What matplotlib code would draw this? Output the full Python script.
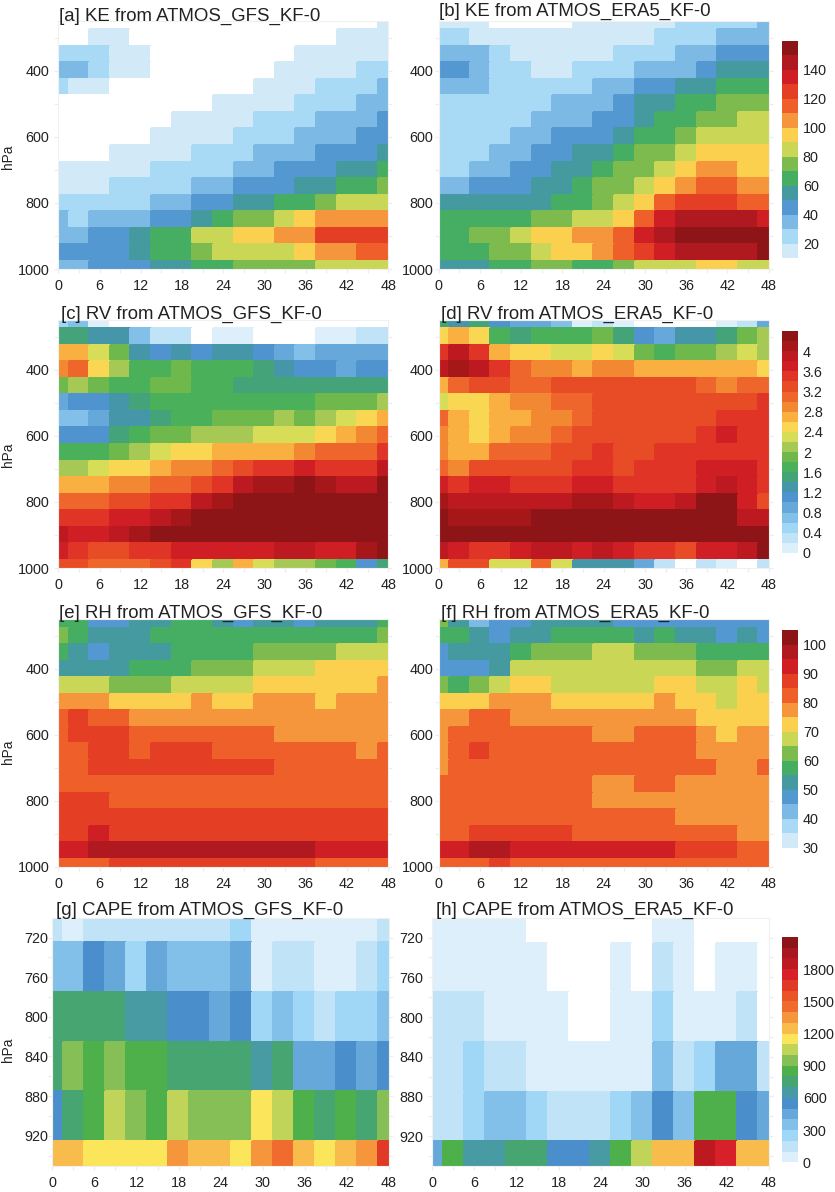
import numpy as np
from matplotlib import pyplot as plt
from matplotlib.colors import BoundaryNorm, ListedColormap
from matplotlib.colorbar import ColorbarBase
from matplotlib.ticker import FixedLocator

plt.rcParams['font.family'] = ['Liberation Sans', 'DejaVu Sans']

hours = list(range(0, 49, 3))
plev = list(range(250, 1001, 50))
plev_cape = [700, 750, 800, 850, 900, 950]

ke_gfs = [
    [5, 5, 5, 5, 5, 5, 5, 5, 5, 5, 5, 5, 5, 5, 5, 5, 15],
    [5, 5, 15, 15, 5, 5, 5, 5, 5, 5, 5, 5, 5, 5, 15, 15, 15],
    [25, 25, 25, 15, 15, 5, 5, 5, 5, 5, 5, 5, 15, 15, 15, 15, 15],
    [35, 35, 25, 15, 15, 5, 5, 5, 5, 5, 5, 15, 15, 15, 15, 25, 25],
    [25, 15, 15, 5, 5, 5, 5, 5, 5, 5, 15, 15, 15, 25, 25, 25, 35],
    [5, 5, 5, 5, 5, 5, 5, 5, 15, 15, 15, 15, 25, 25, 25, 35, 35],
    [5, 5, 5, 5, 5, 5, 15, 15, 15, 15, 25, 25, 25, 35, 35, 35, 45],
    [5, 5, 5, 5, 5, 15, 15, 15, 15, 25, 25, 25, 35, 35, 35, 45, 45],
    [5, 5, 5, 15, 15, 15, 15, 25, 25, 25, 35, 35, 35, 45, 45, 45, 55],
    [15, 15, 15, 15, 15, 25, 25, 25, 25, 35, 35, 45, 45, 45, 55, 55, 65],
    [15, 15, 15, 25, 25, 25, 25, 35, 35, 45, 45, 45, 55, 55, 65, 65, 75],
    [25, 25, 25, 25, 25, 35, 35, 45, 45, 55, 55, 65, 65, 75, 85, 85, 85],
    [35, 25, 35, 35, 35, 45, 45, 55, 65, 75, 75, 85, 95, 105, 105, 105, 105],
    [35, 35, 45, 45, 55, 65, 65, 85, 85, 95, 95, 105, 105, 125, 125, 125, 125],
    [45, 45, 45, 45, 55, 65, 65, 75, 85, 85, 85, 85, 95, 105, 105, 115, 115],
    [35, 35, 45, 45, 45, 55, 55, 65, 65, 75, 75, 75, 75, 85, 85, 85, 85],
]
ke_era5 = [
    [15, 15, 15, 5, 5, 5, 5, 15, 15, 15, 15, 15, 25, 25, 25, 25, 35],
    [25, 25, 15, 15, 15, 15, 15, 15, 15, 15, 15, 25, 25, 25, 35, 35, 35],
    [35, 35, 35, 25, 15, 15, 15, 15, 15, 25, 25, 25, 35, 35, 45, 45, 45],
    [45, 45, 35, 25, 25, 15, 15, 25, 25, 25, 35, 35, 35, 45, 55, 55, 55],
    [35, 35, 35, 25, 25, 25, 25, 25, 35, 35, 45, 45, 55, 55, 65, 65, 65],
    [25, 25, 25, 25, 25, 25, 35, 35, 35, 45, 55, 55, 65, 65, 75, 75, 75],
    [25, 25, 25, 25, 25, 35, 35, 35, 45, 45, 55, 65, 65, 75, 75, 85, 85],
    [25, 25, 25, 25, 35, 35, 45, 45, 45, 55, 65, 65, 75, 85, 85, 85, 85],
    [25, 25, 25, 35, 35, 45, 45, 55, 55, 65, 75, 75, 85, 95, 95, 95, 95],
    [25, 25, 35, 35, 45, 45, 55, 55, 65, 75, 75, 85, 95, 105, 105, 95, 95],
    [35, 35, 45, 45, 45, 55, 55, 65, 75, 75, 85, 95, 105, 115, 115, 105, 105],
    [55, 55, 55, 55, 55, 55, 65, 65, 75, 85, 95, 115, 125, 125, 125, 115, 115],
    [65, 65, 65, 65, 65, 75, 75, 85, 85, 95, 115, 135, 145, 145, 145, 145, 135],
    [65, 65, 75, 75, 85, 95, 95, 105, 105, 115, 135, 145, 155, 155, 155, 155, 155],
    [65, 65, 65, 75, 75, 85, 95, 95, 105, 115, 125, 135, 145, 145, 145, 145, 155],
    [55, 55, 55, 65, 65, 75, 75, 65, 65, 75, 85, 85, 85, 95, 95, 85, 85],
]
rv_gfs = [
    [0.5, 0.7, 0.1, -0.1, -0.1, -0.1, -0.1, -0.1, -0.1, -0.1, -0.1, -0.1, -0.1, -0.1, -0.1, -0.1, -0.1],
    [1.5, 1.5, 1.3, 1.3, 0.7, 0.3, 0.3, -0.1, 0.1, 0.1, -0.1, -0.1, -0.1, 0.1, 0.1, 0.3, 0.3],
    [2.7, 2.7, 2.3, 1.9, 1.3, 1.1, 1.3, 1.1, 1.3, 1.3, 1.1, 0.9, 0.7, 0.9, 0.9, 0.9, 0.9],
    [2.9, 3.1, 2.5, 2.1, 1.7, 1.7, 1.9, 1.7, 1.7, 1.7, 1.5, 1.3, 1.1, 1.1, 0.9, 1.1, 1.1],
    [1.9, 2.1, 1.9, 1.7, 1.7, 1.9, 1.9, 1.7, 1.7, 1.5, 1.5, 1.5, 1.5, 1.5, 1.5, 1.5, 1.5],
    [0.9, 1.1, 1.1, 1.3, 1.5, 1.7, 1.7, 1.7, 1.7, 1.7, 1.7, 1.7, 1.7, 1.9, 1.9, 1.9, 2.1],
    [0.7, 0.7, 0.9, 1.3, 1.3, 1.5, 1.7, 1.7, 1.9, 1.9, 1.9, 2.1, 1.9, 2.1, 2.3, 2.5, 2.7],
    [1.1, 1.1, 1.1, 1.5, 1.7, 1.9, 1.9, 2.1, 2.1, 2.1, 2.3, 2.3, 2.3, 2.5, 2.7, 2.9, 3.1],
    [1.7, 1.7, 1.7, 1.9, 2.1, 2.3, 2.5, 2.5, 2.7, 2.7, 2.7, 2.7, 2.9, 3.1, 3.1, 3.1, 3.5],
    [2.1, 2.1, 2.3, 2.5, 2.5, 2.7, 2.9, 2.9, 3.1, 3.3, 3.5, 3.5, 3.7, 3.5, 3.5, 3.5, 3.9],
    [2.7, 2.7, 2.7, 2.9, 2.9, 3.1, 3.1, 3.3, 3.5, 3.9, 4.1, 4.1, 4.3, 4.1, 3.9, 3.9, 4.3],
    [3.1, 3.1, 3.1, 3.3, 3.3, 3.5, 3.5, 3.9, 4.1, 4.3, 4.3, 4.3, 4.3, 4.3, 4.3, 4.3, 4.3],
    [3.5, 3.5, 3.5, 3.7, 3.7, 3.9, 4.1, 4.3, 4.3, 4.3, 4.3, 4.3, 4.3, 4.3, 4.3, 4.3, 4.3],
    [3.9, 3.7, 3.7, 3.9, 4.1, 4.3, 4.3, 4.3, 4.3, 4.3, 4.3, 4.3, 4.3, 4.3, 4.3, 4.3, 4.3],
    [3.7, 3.5, 3.3, 3.3, 3.5, 3.5, 3.7, 3.7, 3.7, 3.7, 3.7, 3.9, 3.9, 3.7, 3.7, 4.1, 4.3],
    [3.3, 3.3, 3.1, 3.1, 3.1, 3.3, 3.5, 2.5, 2.1, 2.7, 2.3, 2.1, 2.1, 1.9, 1.7, 1.1, 1.5],
]
rv_era5 = [
    [1.5, 1.3, 1.5, 1.1, 0.9, 0.9, 0.7, 0.1, 0.3, 0.1, -0.1, -0.1, -0.1, -0.1, 0.1, 0.3, 0.9],
    [2.5, 2.7, 2.5, 1.7, 1.5, 1.7, 1.7, 1.7, 1.9, 1.5, 1.1, 0.9, 1.3, 1.3, 1.5, 1.9, 2.1],
    [3.5, 3.9, 3.5, 2.7, 2.5, 2.5, 2.3, 2.3, 2.5, 2.3, 1.9, 1.7, 1.9, 1.9, 2.1, 2.3, 2.1],
    [3.9, 4.1, 3.9, 3.5, 3.1, 2.9, 2.9, 2.7, 2.9, 2.9, 2.7, 2.7, 2.7, 2.7, 2.7, 2.7, 2.5],
    [2.7, 3.1, 3.3, 3.3, 3.1, 3.1, 3.3, 3.3, 3.3, 3.3, 3.3, 3.3, 3.3, 3.1, 2.9, 3.1, 3.1],
    [2.3, 2.5, 2.5, 2.7, 2.9, 2.9, 3.1, 3.1, 3.3, 3.3, 3.3, 3.3, 3.3, 3.3, 3.3, 3.3, 3.5],
    [3.1, 2.7, 2.5, 2.7, 2.7, 2.9, 2.9, 3.1, 3.3, 3.3, 3.3, 3.3, 3.3, 3.3, 3.5, 3.5, 3.5],
    [2.9, 2.7, 2.5, 2.7, 2.9, 2.9, 3.1, 3.3, 3.3, 3.3, 3.3, 3.3, 3.3, 3.5, 3.7, 3.5, 3.5],
    [2.9, 2.7, 2.7, 3.1, 3.1, 3.1, 3.3, 3.3, 3.5, 3.3, 3.3, 3.5, 3.5, 3.5, 3.5, 3.5, 3.5],
    [3.1, 2.9, 3.3, 3.3, 3.3, 3.3, 3.3, 3.5, 3.5, 3.3, 3.5, 3.5, 3.5, 3.7, 3.7, 3.7, 3.5],
    [3.7, 3.5, 3.7, 3.7, 3.5, 3.5, 3.5, 3.7, 3.7, 3.5, 3.5, 3.5, 3.5, 3.7, 3.9, 3.7, 3.5],
    [4.1, 3.9, 3.9, 3.9, 3.9, 3.9, 3.9, 4.1, 4.1, 3.9, 3.7, 3.7, 3.9, 4.3, 4.3, 3.7, 3.3],
    [4.3, 4.1, 4.1, 4.1, 4.1, 4.3, 4.3, 4.3, 4.3, 4.3, 4.3, 4.3, 4.3, 4.3, 4.3, 3.9, 3.9],
    [4.3, 4.3, 4.3, 4.3, 4.3, 4.3, 4.3, 4.3, 4.3, 4.3, 4.3, 4.3, 4.3, 4.3, 4.3, 4.3, 4.3],
    [3.9, 3.7, 3.5, 3.5, 3.7, 3.9, 3.9, 3.7, 3.9, 3.7, 3.5, 3.5, 3.3, 3.7, 3.7, 3.9, 4.3],
    [2.7, 3.3, 3.3, 2.3, 2.3, 3.1, 2.3, 1.3, 1.3, 1.3, 0.9, 0.3, -0.1, 0.3, 0.1, -0.1, 0.3],
]
rh_gfs = [
    [57, 57, 47, 47, 52, 52, 57, 57, 52, 47, 52, 52, 47, 52, 52, 52, 57],
    [62, 57, 52, 52, 52, 57, 57, 57, 57, 57, 57, 57, 57, 57, 57, 57, 62],
    [57, 52, 47, 52, 52, 52, 57, 57, 57, 57, 62, 62, 62, 62, 67, 67, 67],
    [52, 52, 52, 52, 57, 57, 57, 62, 62, 62, 67, 67, 67, 72, 72, 72, 72],
    [67, 67, 67, 62, 62, 62, 67, 67, 67, 67, 72, 72, 72, 72, 72, 72, 77],
    [77, 77, 77, 72, 72, 72, 72, 77, 72, 72, 77, 77, 77, 72, 77, 77, 77],
    [82, 87, 82, 82, 77, 77, 77, 77, 77, 77, 77, 77, 77, 77, 77, 77, 77],
    [82, 87, 87, 87, 82, 82, 82, 82, 82, 82, 82, 77, 77, 77, 77, 77, 77],
    [82, 82, 87, 87, 82, 87, 87, 87, 82, 82, 82, 82, 82, 82, 82, 77, 82],
    [82, 82, 87, 87, 87, 87, 87, 87, 87, 87, 87, 82, 82, 82, 82, 82, 82],
    [82, 82, 82, 82, 82, 82, 82, 82, 82, 82, 82, 82, 82, 82, 82, 82, 82],
    [87, 87, 87, 82, 82, 82, 82, 82, 82, 82, 82, 82, 82, 82, 82, 82, 82],
    [87, 87, 87, 87, 87, 87, 87, 87, 87, 87, 87, 87, 87, 87, 87, 87, 87],
    [87, 87, 92, 87, 87, 87, 87, 87, 87, 87, 87, 87, 87, 87, 87, 87, 87],
    [92, 92, 97, 97, 97, 97, 97, 97, 97, 97, 97, 97, 97, 92, 92, 92, 92],
    [82, 82, 82, 87, 87, 87, 87, 87, 87, 87, 87, 87, 87, 82, 82, 82, 82],
]
rh_era5 = [
    [62, 52, 42, 47, 47, 52, 52, 52, 52, 47, 47, 47, 47, 47, 47, 47, 47],
    [57, 57, 52, 47, 52, 52, 57, 57, 57, 57, 52, 57, 52, 52, 47, 52, 47],
    [47, 52, 52, 52, 57, 62, 62, 62, 67, 67, 62, 62, 62, 57, 57, 57, 57],
    [47, 47, 47, 52, 67, 67, 67, 67, 67, 67, 67, 67, 67, 62, 62, 67, 67],
    [62, 57, 62, 67, 72, 72, 67, 67, 67, 67, 67, 72, 72, 67, 67, 72, 67],
    [72, 72, 72, 77, 77, 77, 72, 72, 72, 72, 72, 77, 72, 72, 67, 72, 72],
    [77, 77, 82, 82, 77, 77, 77, 77, 77, 77, 77, 77, 77, 72, 72, 72, 72],
    [77, 82, 82, 82, 82, 82, 82, 82, 77, 77, 82, 82, 82, 77, 72, 77, 77],
    [77, 82, 87, 82, 82, 82, 82, 82, 82, 82, 82, 82, 82, 77, 77, 77, 77],
    [77, 82, 82, 82, 82, 82, 82, 82, 82, 82, 82, 82, 82, 82, 77, 77, 82],
    [82, 82, 82, 82, 82, 82, 82, 82, 77, 77, 82, 82, 77, 77, 77, 77, 77],
    [82, 82, 82, 82, 82, 82, 82, 82, 77, 77, 77, 77, 77, 77, 77, 77, 77],
    [82, 82, 82, 82, 82, 82, 82, 82, 82, 82, 82, 82, 77, 77, 77, 77, 77],
    [82, 82, 87, 87, 87, 87, 87, 82, 82, 82, 82, 82, 82, 82, 82, 77, 77],
    [92, 92, 97, 97, 92, 92, 92, 92, 92, 92, 92, 92, 87, 87, 87, 82, 82],
    [82, 82, 82, 87, 82, 82, 82, 82, 82, 82, 82, 82, 82, 82, 82, 82, 82],
]
cape_gfs = [
    [150, 50, 150, 150, 150, 150, 150, 150, 150, 250, 50, 50, 50, 50, 50, 50, 150],
    [350, 350, 550, 450, 250, 450, 350, 350, 350, 450, 50, 150, 150, 50, 50, 150, 250],
    [750, 750, 750, 750, 650, 650, 550, 550, 450, 550, 250, 350, 250, 150, 250, 250, 350],
    [750, 950, 850, 950, 850, 850, 750, 750, 750, 750, 650, 750, 450, 450, 550, 450, 550],
    [550, 750, 850, 1050, 950, 850, 1050, 950, 950, 950, 1150, 1050, 850, 750, 850, 750, 950],
    [1250, 1250, 1150, 1150, 1150, 1150, 1350, 1250, 1250, 1150, 1350, 1450, 1250, 1150, 1250, 1350, 1650],
]
cape_era5 = [
    [50, 50, 50, 50, 50, -50, -50, -50, -50, -50, -50, 50, 50, -50, -50, -50, -50],
    [50, 50, 50, 50, 50, 50, -50, -50, -50, 50, -50, 150, 50, -50, 50, 50, -50],
    [150, 150, 150, 50, 50, 50, 50, -50, -50, 50, 50, 250, 50, 50, 50, 150, -50],
    [150, 150, 250, 150, 150, 50, 50, 50, 50, 50, 50, 350, 150, 250, 450, 450, 150],
    [150, 150, 250, 350, 350, 250, 150, 150, 150, 250, 350, 550, 350, 850, 850, 550, 450],
    [450, 850, 650, 650, 750, 750, 550, 550, 650, 850, 1050, 1250, 1250, 1850, 1750, 1250, 1250],
]

ke_levels = list(range(0, 161, 10))
rv_levels = [-0.2, 0, 0.2, 0.4, 0.6, 0.8, 1, 1.2, 1.4, 1.6, 1.8, 2, 2.2, 2.4,
             2.6, 2.8, 3, 3.2, 3.4, 3.6, 3.8, 4, 4.2, 4.4]
rh_levels = list(range(25, 106, 5))
cape_levels = list(range(-100, 2101, 100))

ke_ticks = [20, 40, 60, 80, 100, 120, 140]
rv_ticks = [0, 0.4, 0.8, 1.2, 1.6, 2, 2.4, 2.8, 3.2, 3.6, 4]
rh_ticks = [30, 40, 50, 60, 70, 80, 90, 100]
cape_ticks = [0, 300, 600, 900, 1200, 1500, 1800]

colors_16 = ['#ffffff', '#d2e9f7', '#a8daf6', '#7db9e5', '#5498d2', '#459aa0',
             '#46ae62', '#7dbb4e', '#cad756', '#fad04e', '#f5963c', '#ee5f2a',
             '#e43f24', '#cf1f25', '#b0191f', '#8d1517']
colors_23 = ['#ffffff', '#ddeffa', '#c0e3f7', '#a0d7f6', '#82bfe9', '#66a8da',
             '#4f93cf', '#4596a8', '#45a37a', '#4ab05a', '#6fb84c', '#a6c955',
             '#d8dd58', '#fad753', '#fab041', '#f38833', '#ee662b', '#e84c27',
             '#e03426', '#cf1f25', '#bc1a20', '#a51719', '#8d1517']
colors_22 = ['#ffffff', '#ddeffa', '#c0e3f7', '#a0d7f6', '#82bfe9', '#66a8da',
             '#4a8fcb', '#489aa3', '#46a570', '#4eb04a', '#86bf55', '#c0d45a',
             '#fbe55a', '#f8bc4c', '#f5963c', '#f06b2e', '#eb5329', '#e03a27',
             '#d72029', '#bc1a20', '#a91820', '#8d1517']

FIG_W, FIG_H = 835, 1192
GRID = '#ececec'
TEXT = '#222222'
FS = 10.4


def px_axes(fig, left, top, right, bottom):
    return fig.add_axes([left / FIG_W, 1 - bottom / FIG_H,
                         (right - left) / FIG_W, (bottom - top) / FIG_H])


def draw_panel(fig, box, data, y, levels, colors, title, title_xy, ypad, cape=False, ylabel_y=None):
    ax = px_axes(fig, *box)
    cmap = ListedColormap(colors)
    norm = BoundaryNorm(levels, cmap.N)
    ax.pcolormesh(hours, y, np.array(data), cmap=cmap, norm=norm, shading='nearest',
                  edgecolors='face', linewidth=0.1)
    ax.set_xlim(0, 48)
    if cape:
        ax.set_ylim(950, 700)
        ax.set_yticks([720, 760, 800, 840, 880, 920])
        ax.yaxis.set_minor_locator(FixedLocator([740, 780, 820, 860, 900, 940]))
    else:
        ax.set_ylim(1000, 250)
        ax.set_yticks([400, 600, 800, 1000])
        ax.yaxis.set_minor_locator(FixedLocator([300, 500, 700, 900]))
    ax.set_xticks(range(0, 49, 6))
    ax.xaxis.set_minor_locator(FixedLocator(range(3, 48, 6)))
    ax.tick_params(axis='x', which='both', length=3, width=0.8, color=GRID, pad=4.5,
                   labelsize=FS, labelcolor=TEXT)
    ax.tick_params(axis='y', which='both', length=3, width=0.8, color=GRID, pad=ypad,
                   labelsize=FS, labelcolor=TEXT, right=True)
    for s in ax.spines.values():
        s.set_color('#f0f0f0')
        s.set_linewidth(0.8)
    fig.text(title_xy[0] / FIG_W, 1 - title_xy[1] / FIG_H, title, fontsize=13.4,
             color=TEXT, ha='left', va='baseline', zorder=10)
    if ylabel_y is not None:
        fig.text(8 / FIG_W, 1 - ylabel_y / FIG_H, 'hPa', rotation=90, fontsize=9.8,
                 color=TEXT, ha='center', va='center')
    return ax


def draw_cbar(fig, top, bottom, levels, colors, ticks):
    cax = px_axes(fig, 782, top, 798, bottom)
    cmap = ListedColormap(colors)
    norm = BoundaryNorm(levels, cmap.N)
    cb = ColorbarBase(cax, cmap=cmap, norm=norm, boundaries=levels, spacing='uniform', ticks=ticks)
    cb.outline.set_visible(False)
    cb.ax.set_yticklabels([str(t) for t in ticks])
    cb.ax.tick_params(length=0, pad=3.5, labelsize=FS, labelcolor=TEXT)
    cb.ax.minorticks_off()


fig = plt.figure(figsize=(FIG_W / 100, FIG_H / 100), dpi=100)

draw_panel(fig, (58.3, 21, 388.3, 269), ke_gfs, plev, ke_levels, colors_16,
           '[a] KE from ATMOS_GFS_KF-0', (59, 20.5), 3.4, ylabel_y=157)
draw_panel(fig, (438.7, 21, 768.7, 269), ke_era5, plev, ke_levels, colors_16,
           '[b] KE from ATMOS_ERA5_KF-0', (439, 16), 1)
draw_panel(fig, (58.3, 320, 388.3, 568), rv_gfs, plev, rv_levels, colors_23,
           '[c] RV from ATMOS_GFS_KF-0', (61, 319), 3.4, ylabel_y=455)
draw_panel(fig, (438.7, 320, 768.7, 568), rv_era5, plev, rv_levels, colors_23,
           '[d] RV from ATMOS_ERA5_KF-0', (441, 319), 1)
draw_panel(fig, (58.3, 619.3, 388.3, 867), rh_gfs, plev, rh_levels, colors_16,
           '[e] RH from ATMOS_GFS_KF-0', (59, 618), 3.4, ylabel_y=752)
draw_panel(fig, (438.7, 619.3, 768.7, 867), rh_era5, plev, rh_levels, colors_16,
           '[f] RH from ATMOS_ERA5_KF-0', (441, 618), 1)
draw_panel(fig, (52.3, 917.7, 389, 1165.5), cape_gfs, plev_cape, cape_levels, colors_22,
           '[g] CAPE from ATMOS_GFS_KF-0', (56, 915), 0, cape=True, ylabel_y=1050)
draw_panel(fig, (432.3, 917.7, 769, 1166), cape_era5, plev_cape, cape_levels, colors_22,
           '[h] CAPE from ATMOS_ERA5_KF-0', (436, 915), 3.4, cape=True)

draw_cbar(fig, 40.7, 272.7, ke_levels, colors_16, ke_ticks)
draw_cbar(fig, 331, 563, rv_levels, colors_23, rv_ticks)
draw_cbar(fig, 630, 862, rh_levels, colors_16, rh_ticks)
draw_cbar(fig, 937, 1173, cape_levels, colors_22, cape_ticks)

plt.savefig('out.png', dpi=100)
